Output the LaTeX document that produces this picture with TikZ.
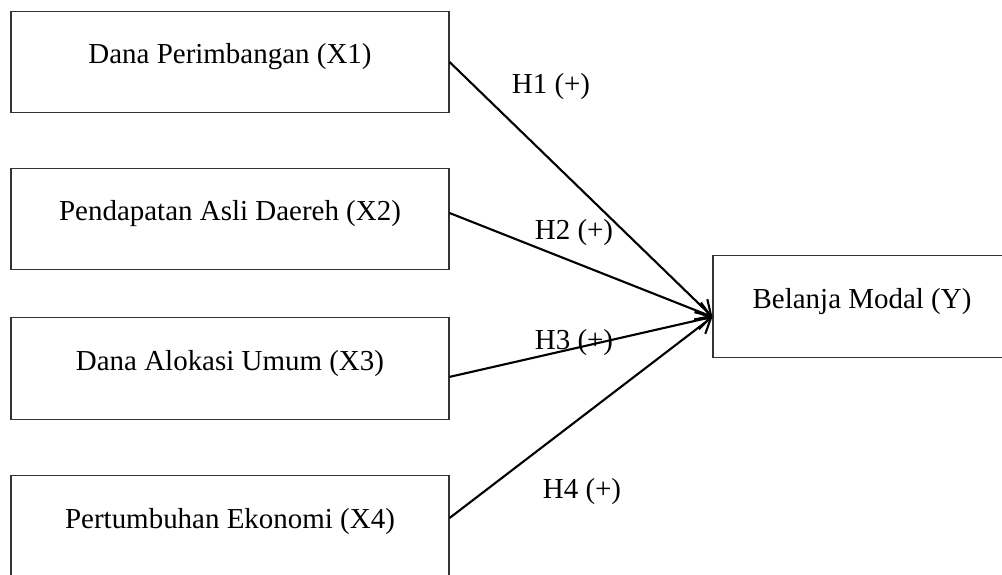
\documentclass[tikz,border=0pt]{standalone}
\usepackage{fontspec}
\setmainfont{Liberation Serif}
\usetikzlibrary{arrows.meta,positioning,calc}

\begin{document}
\begin{tikzpicture}[
        every node/.style={font=\fontsize{20.6}{25}\selectfont},
        var/.style={draw=black!80, line width=0.8pt, minimum width=10.95cm, minimum height=2.53cm, inner sep=0pt, text height=0.5cm, text depth=0.42cm},
        arrow/.style={-{Straight Barb[length=10pt, width=13pt]}, line width=1.5pt}
    ]
        \useasboundingbox (0,0) rectangle (25.05,-14.375);

        % Variabel independen
        \node[var] (x1) at (5.75, -1.55) {Dana Perimbangan (X1)};
        \node[var] (x2) at (5.75, -5.475) {Pendapatan Asli Daereh (X2)};
        \node[var] (x3) at (5.75, -9.2125) {Dana Alokasi Umum (X3)};
        \node[var] (x4) at (5.75, -13.16) {Pertumbuhan Ekonomi (X4)};

        % Variabel dependen
        \node[var, minimum width=7.45cm] (y) at (21.55, -7.6625) {Belanja Modal (Y)};
        \coordinate (tip) at ([yshift=-0.26cm]y.west);

        % Hubungan
        \draw[arrow] (x1.east) -- (tip);
        \draw[arrow] ([yshift=0.15cm]x2.east) -- (tip);
        \draw[arrow] ([yshift=-0.21cm]x3.east) -- (tip);
        \draw[arrow] ([yshift=0.21cm]x4.east) -- (tip);

        % Hipotesis
        \node (h1) at (13.775, -2.175) {H1 (+)};
        \node (h2) at (14.35, -5.825) {H2 (+)};
        \node (h3) at (14.35, -8.575) {H3 (+)};
        \node (h4) at (14.55, -12.3) {H4 (+)};
    \end{tikzpicture}
\end{document}
